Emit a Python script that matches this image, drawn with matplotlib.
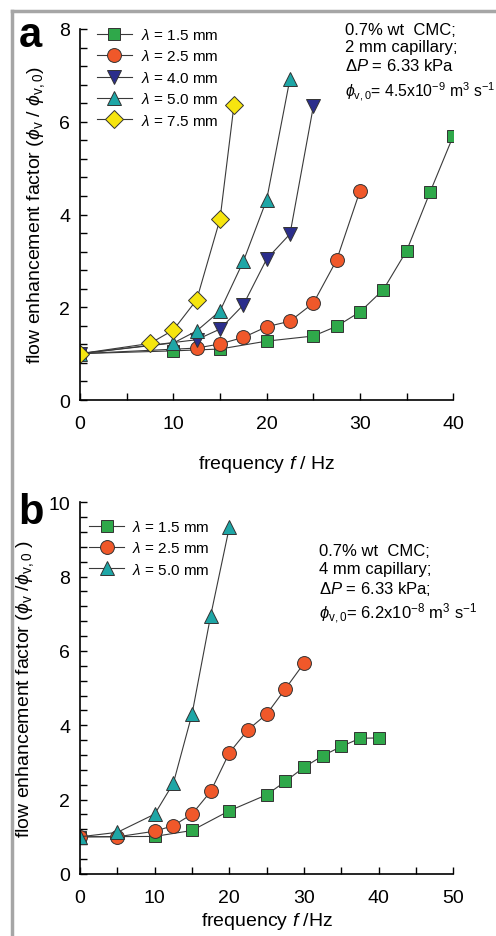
import numpy as np
import matplotlib
matplotlib.use('Agg')
import matplotlib.pyplot as plt
from matplotlib.lines import Line2D
from matplotlib.ticker import MultipleLocator

plt.rcParams['font.family'] = ['Liberation Sans', 'DejaVu Sans']
plt.rcParams['mathtext.fontset'] = 'custom'
plt.rcParams['mathtext.rm'] = 'Liberation Sans'
plt.rcParams['mathtext.it'] = 'Liberation Sans:italic'
plt.rcParams['mathtext.bf'] = 'Liberation Sans:bold'

# panel a: 0.7% CMC, 2 mm capillary
a_f15 = [0, 10, 15, 20, 25, 27.5, 30, 32.5, 35, 37.5, 40]
a_y15 = [1.0, 1.06, 1.1, 1.27, 1.38, 1.59, 1.9, 2.38, 3.22, 4.48, 5.70]
a_f25 = [0, 12.5, 15, 17.5, 20, 22.5, 25, 27.5, 30]
a_y25 = [1.0, 1.12, 1.21, 1.35, 1.58, 1.70, 2.09, 3.02, 4.51]
a_f40 = [0, 12.5, 15, 17.5, 20, 22.5, 25]
a_y40 = [1.0, 1.30, 1.53, 2.05, 3.04, 3.58, 6.33]
a_f50 = [0, 10, 12.5, 15, 17.5, 20, 22.5]
a_y50 = [1.0, 1.23, 1.49, 1.92, 2.99, 4.32, 6.93]
a_f75 = [0, 7.5, 10, 12.5, 15, 16.5]
a_y75 = [1.0, 1.22, 1.51, 2.16, 3.90, 6.36]

# panel b: 0.7% CMC, 4 mm capillary
b_f15 = [0, 10, 15, 20, 25, 27.5, 30, 32.5, 35, 37.5, 40]
b_y15 = [1.0, 1.01, 1.17, 1.70, 2.13, 2.49, 2.87, 3.18, 3.43, 3.65, 3.66]
b_f25 = [0, 5, 10, 12.5, 15, 17.5, 20, 22.5, 25, 27.5, 30]
b_y25 = [1.0, 1.0, 1.15, 1.30, 1.61, 2.22, 3.26, 3.88, 4.30, 4.98, 5.67]
b_f50 = [0, 5, 10, 12.5, 15, 17.5, 20]
b_y50 = [1.0, 1.12, 1.61, 2.44, 4.30, 6.95, 9.33]

green = '#2fa84a'
red = '#f0582a'
navy = '#2b2e8c'
teal = '#1ea6a6'
yellow = '#f6e50f'

styles = {
    '1.5': dict(marker='s', mfc=green, ms=8),
    '2.5': dict(marker='o', mfc=red, ms=10),
    '4.0': dict(marker='v', mfc=navy, ms=10),
    '5.0': dict(marker='^', mfc=teal, ms=10),
    '7.5': dict(marker='D', mfc=yellow, ms=9),
}


def draw(ax, f, y, key):
    ax.plot(f, y, color='#3a3a3a', lw=0.8, mec='#333333', mew=0.7,
            label=r'$\lambda$ = ' + key + ' mm', **styles[key])


def style_axes(ax):
    for s in ['top', 'right']:
        ax.spines[s].set_visible(False)
    for s in ['left', 'bottom']:
        ax.spines[s].set_linewidth(1.2)
    ax.tick_params(which='both', direction='in', length=5, width=1.0,
                   labelsize=14, pad=7)
    ax.tick_params(axis='x', which='both', pad=11)
    ax.yaxis.set_minor_locator(MultipleLocator(0.4))
    ax.xaxis.set_minor_locator(MultipleLocator(5))


fig = plt.figure(figsize=(4.96, 9.37), dpi=100)

# ---- panel a ----
ax1 = fig.add_axes([0.1613, 0.572, 0.7527, 0.396])
draw(ax1, a_f15, a_y15, '1.5')
draw(ax1, a_f25, a_y25, '2.5')
draw(ax1, a_f40, a_y40, '4.0')
draw(ax1, a_f50, a_y50, '5.0')
draw(ax1, a_f75, a_y75, '7.5')
ax1.set_xlim(0, 40)
ax1.set_ylim(0, 8)
ax1.set_xticks([0, 10, 20, 30, 40])
ax1.set_yticks([0, 2, 4, 6, 8])
style_axes(ax1)
ax1.set_xlabel(r'frequency $f$ / Hz', fontsize=14, labelpad=15)
ax1.set_ylabel(r'flow enhancement factor ($\phi_\mathrm{v}$ / $\phi_\mathrm{v,0}$)',
               fontsize=14, labelpad=9)
ax1.legend(loc='upper left', bbox_to_anchor=(0.02, 1.03), frameon=False,
           fontsize=11, handlelength=2.3, handletextpad=0.6, labelspacing=0.42,
           borderaxespad=0.2)
ax1.text(0.71, 1.02, '0.7% wt  CMC;\n2 mm capillary;\n'
         r'$\Delta P$ = 6.33 kPa',
         transform=ax1.transAxes, fontsize=12, va='top', ha='left',
         linespacing=1.22)
ax1.text(0.71, 0.835, r'$\phi_\mathrm{v,0}$= 4.5x10$^{-9}$ m$^3$ s$^{-1}$',
         transform=ax1.transAxes, fontsize=11.3, va='center', ha='left')
fig.text(0.062, 0.962, 'a', fontsize=30, fontweight='bold', ha='center', va='center')

# ---- panel b ----
ax2 = fig.add_axes([0.1613, 0.0662, 0.7527, 0.3967])
draw(ax2, b_f15, b_y15, '1.5')
draw(ax2, b_f25, b_y25, '2.5')
draw(ax2, b_f50, b_y50, '5.0')
ax2.set_xlim(0, 50)
ax2.set_ylim(0, 10)
ax2.set_xticks([0, 10, 20, 30, 40, 50])
ax2.set_yticks([0, 2, 4, 6, 8, 10])
style_axes(ax2)
ax2.set_xlabel(r'frequency $f$ /Hz', fontsize=14, labelpad=3)
ax2.set_ylabel(r'flow enhancement factor ($\phi_\mathrm{v}$ /$\phi_\mathrm{v,0}$ )',
               fontsize=14, labelpad=9)
ax2.legend(loc='upper left', bbox_to_anchor=(0.0, 0.98), frameon=False,
           fontsize=11, handlelength=2.3, handletextpad=0.5, labelspacing=0.42,
           borderaxespad=0.2)
ax2.text(0.64, 0.89, '0.7% wt  CMC;\n4 mm capillary;\n'
         r'$\Delta P$ = 6.33 kPa;' '\n'
         r'$\phi_\mathrm{v,0}$= 6.2x10$^{-8}$ m$^3$ s$^{-1}$',
         transform=ax2.transAxes, fontsize=12, va='top', ha='left',
         linespacing=1.22)
fig.text(0.062, 0.452, 'b', fontsize=30, fontweight='bold', ha='center', va='center')

# grey frame (left and top edges)
fig.add_artist(Line2D([0.024, 0.024], [0.0, 0.987], transform=fig.transFigure,
                      color='#a6a6a6', lw=2.5))
fig.add_artist(Line2D([0.024, 1.0], [0.987, 0.987], transform=fig.transFigure,
                      color='#a6a6a6', lw=2.5))

fig.savefig('out.png', dpi=100, facecolor='white')
